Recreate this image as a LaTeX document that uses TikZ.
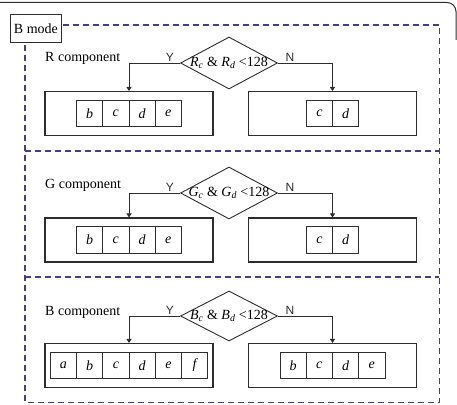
\documentclass[tikz,border=0pt]{standalone}
\usepackage{fontspec}
\setmainfont{Liberation Serif}
\newfontfamily\ynfont{Liberation Sans}
\usetikzlibrary{positioning, arrows.meta, shapes.geometric}
\definecolor{modeblue}{RGB}{68, 60, 142}
\definecolor{linegray}{RGB}{45, 45, 45}
\tikzset{
  panel/.style={minimum width=414pt, minimum height=377pt, anchor=north west, inner sep=0pt},
  sep/.style={draw=modeblue, dash pattern=on 6pt off 4pt, line width=1.3pt},
  tag/.style={rectangle, draw=linegray, fill=white, line width=0.9pt, minimum height=28pt,
    inner sep=3.5pt, anchor=north west, font=\fontsize{14}{16}\selectfont},
  comp/.style={anchor=west, inner sep=0pt, font=\fontsize{14}{16}\selectfont},
  cond/.style={diamond, draw=linegray, line width=0.9pt, minimum width=97pt,
    minimum height=52pt, inner sep=0pt},
  condtext/.style={font=\fontsize{14}{16}\selectfont, inner sep=0pt},
  outbox/.style={rectangle, draw=linegray, line width=1.1pt, minimum width=168pt,
    minimum height=44pt},
  cell/.style={rectangle, draw=linegray, line width=0.9pt, minimum width=26.25pt,
    minimum height=26.5pt, inner sep=0pt, outer sep=0pt, font=\fontsize{14}{16}\selectfont\itshape},
  flow/.style={-{Triangle[length=4pt, width=5pt]}, line width=0.9pt, linegray},
  yn/.style={font=\ynfont\fontsize{12}{14}\selectfont, above, inner sep=1.5pt},
}
\begin{document}
\begin{tikzpicture}[x=1pt, y=-1pt]
    \useasboundingbox (0,0) rectangle (457,404);
    % outer frame
    \draw[linegray, line width=1pt, rounded corners=9pt] (0,2.5) -- (456,2.5) -- (456,40);
    \node[panel] (panel) at (25,25) {};
    \draw[sep] (panel.north west) rectangle (panel.south east);
    \draw[sep] (panel.west |- 0,151) -- (panel.east |- 0,151);
    \draw[sep] (panel.west |- 0,277) -- (panel.east |- 0,277);
    \node[tag] (mode) at (10,14) {B mode};
    % R component
    \node[comp] (rlab) at (45,58) {R component};
    \node[cond, label={[condtext]center:\textit{R}\textsubscript{\textit{c}} \& \textit{R}\textsubscript{\textit{d}} <128}] (rdec) at (229,63) {};
    \node[outbox] (rY) at (129,113.5) {};
    \node[outbox] (rN) at (332.5,113.5) {};
    \node[cell] (rYb) at ([xshift=-39.4pt]rY.center) {b};
    \node[cell, right=0pt of rYb] (rYc) {c};
    \node[cell, right=0pt of rYc] (rYd) {d};
    \node[cell, right=0pt of rYd] (rYe) {e};
    \node[cell] (rNc) at ([xshift=-13.1pt]rN.center) {c};
    \node[cell, right=0pt of rNc] (rNd) {d};
    \draw[flow] (rdec.west) -| (rY.north) node[yn, pos=0.1]{Y};
    \draw[flow] (rdec.east) -| (rN.north) node[yn, pos=0.11]{N};
    % G component
    \node[comp] (glab) at (45,185) {G component};
    \node[cond, label={[condtext]center:\textit{G}\textsubscript{\textit{c}} \& \textit{G}\textsubscript{\textit{d}} <128}] (gdec) at (229,193) {};
    \node[outbox] (gY) at (129,240) {};
    \node[outbox] (gN) at (332.5,240) {};
    \node[cell] (gYb) at ([xshift=-39.4pt]gY.center) {b};
    \node[cell, right=0pt of gYb] (gYc) {c};
    \node[cell, right=0pt of gYc] (gYd) {d};
    \node[cell, right=0pt of gYd] (gYe) {e};
    \node[cell] (gNc) at ([xshift=-13.1pt]gN.center) {c};
    \node[cell, right=0pt of gNc] (gNd) {d};
    \draw[flow] (gdec.west) -| (gY.north) node[yn, pos=0.1]{Y};
    \draw[flow] (gdec.east) -| (gN.north) node[yn, pos=0.11]{N};
    % B component
    \node[comp] (blab) at (45,312) {B component};
    \node[cond, minimum height=50pt, label={[condtext]center:\textit{B}\textsubscript{\textit{c}} \& \textit{B}\textsubscript{\textit{d}} <128}] (bdec) at (229,316) {};
    \node[outbox] (bY) at (129,365.5) {};
    \node[outbox] (bN) at (332.5,365.5) {};
    \node[cell] (bYa) at ([xshift=-65.6pt]bY.center) {a};
    \node[cell, right=0pt of bYa] (bYb) {b};
    \node[cell, right=0pt of bYb] (bYc) {c};
    \node[cell, right=0pt of bYc] (bYd) {d};
    \node[cell, right=0pt of bYd] (bYe) {e};
    \node[cell, right=0pt of bYe] (bYf) {f};
    \node[cell] (bNb) at ([xshift=-39.4pt]bN.center) {b};
    \node[cell, right=0pt of bNb] (bNc) {c};
    \node[cell, right=0pt of bNc] (bNd) {d};
    \node[cell, right=0pt of bNd] (bNe) {e};
    \draw[flow] (bdec.west) -| (bY.north) node[yn, pos=0.1]{Y};
    \draw[flow] (bdec.east) -| (bN.north) node[yn, pos=0.11]{N};
\end{tikzpicture}
\end{document}
